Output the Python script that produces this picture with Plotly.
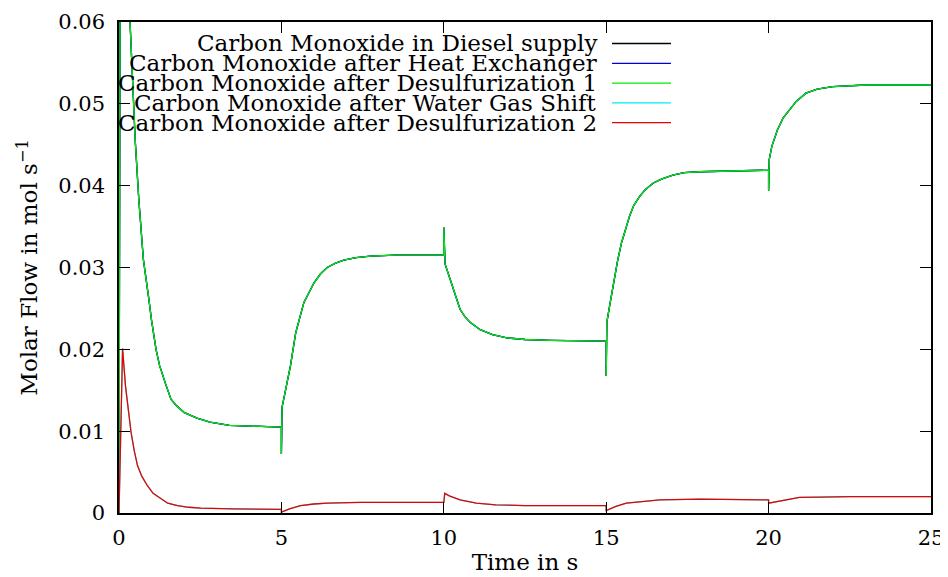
import plotly.graph_objects as go

# CO flow before the water gas shift (diesel supply, heat exchanger, desulfurization 1 coincide)
t_upstream = [0, 0.05, 0.15, 0.25, 0.34, 0.5, 0.61, 0.75, 0.92, 1.0, 1.14, 1.25, 1.45, 1.6,
              1.75, 2.0, 2.4, 2.8, 3.4, 4.05, 5.0, 5.0, 5.02, 5.28, 5.44, 5.69, 5.85, 6.0,
              6.2, 6.41, 6.65, 6.92, 7.3, 7.74, 8.5, 10.0, 10.0, 10.04, 10.2, 10.35, 10.5,
              10.65, 10.81, 11.12, 11.5, 11.94, 12.5, 13.27, 15.0, 15.0, 15.02, 15.1, 15.26,
              15.35, 15.47, 15.6, 15.72, 15.85, 16.03, 16.2, 16.44, 16.7, 17.05, 17.4, 17.87,
              20.0, 20.0, 20.02, 20.1, 20.27, 20.45, 20.64, 20.85, 21.15, 21.5, 21.97, 22.4,
              23.0, 25.0]
co_upstream = [0, 0.100, 0.085, 0.070, 0.060, 0.0455, 0.0383, 0.031, 0.0261, 0.0236, 0.0200,
               0.0180, 0.0156, 0.0139, 0.0132, 0.0123, 0.0116, 0.0111, 0.0107, 0.0106, 0.0105,
               0.0072, 0.0129, 0.0180, 0.0220, 0.0257, 0.0270, 0.0281, 0.0292, 0.0300, 0.0305,
               0.0309, 0.0312, 0.0314, 0.0315, 0.0315, 0.0349, 0.0304, 0.0285, 0.0266, 0.0249,
               0.0240, 0.0233, 0.0224, 0.0218, 0.0214, 0.0212, 0.0211, 0.0210, 0.01675, 0.0233,
               0.0252, 0.0289, 0.0308, 0.0330, 0.0348, 0.0363, 0.0376, 0.0387, 0.0395, 0.0403,
               0.0408, 0.0413, 0.0416, 0.0417, 0.0419, 0.0394, 0.0432, 0.0448, 0.0468, 0.0483,
               0.0493, 0.0503, 0.0513, 0.0518, 0.0521, 0.0522, 0.0523, 0.0523]

# CO flow after the water gas shift (water gas shift, desulfurization 2 coincide)
t_downstream = [0, 0.11, 0.2, 0.28, 0.37, 0.47, 0.57, 0.7, 0.88, 1.05, 1.29, 1.5, 1.8, 2.15,
                2.52, 3.5, 5.0, 5.0, 5.25, 5.59, 6.0, 6.41, 7.43, 10.0, 10.03, 10.17, 10.5,
                11.0, 11.6, 12.5, 15.0, 15.0, 15.3, 15.62, 16.1, 16.65, 17.9, 20.0, 20.0,
                20.4, 20.95, 21.6, 22.5, 25.0]
co_downstream = [0, 0.0201, 0.0155, 0.0125, 0.0099, 0.0076, 0.0058, 0.0045, 0.0033, 0.0024,
                 0.0017, 0.0012, 0.0009, 0.0007, 0.0006, 0.0005, 0.00045, 0.0001, 0.0005,
                 0.0009, 0.0011, 0.0012, 0.0013, 0.0013, 0.0024, 0.0021, 0.0016, 0.0012,
                 0.0010, 0.0009, 0.0009, 0.0003, 0.0008, 0.0012, 0.0014, 0.0016, 0.0017,
                 0.0016, 0.0012, 0.0015, 0.0019, 0.00195, 0.0020, 0.0020]

series_names = ['Carbon Monoxide in Diesel supply',
                'Carbon Monoxide after Heat Exchanger',
                'Carbon Monoxide after Desulfurization 1',
                'Carbon Monoxide after Water Gas Shift',
                'Carbon Monoxide after Desulfurization 2']
series_colors = ['#000000', '#0000dd', '#00ee00', '#00eeee', '#ee0000']
series_data = [(t_upstream, co_upstream), (t_upstream, co_upstream),
               (t_upstream, co_upstream), (t_downstream, co_downstream),
               (t_downstream, co_downstream)]

x_ticks = [0, 5, 10, 15, 20, 25]
y_ticks = [0, 0.01, 0.02, 0.03, 0.04, 0.05, 0.06]
y_ticktext = ['0', '0.01', '0.02', '0.03', '0.04', '0.05', '0.06']

FONT = 'DejaVu Serif'
FSIZE = 23
TSIZE = 21

fig = go.Figure()
for name, color, (tt, vv) in zip(series_names, series_colors, series_data):
    fig.add_trace(go.Scatter(x=tt, y=vv, mode='lines', name=name,
                             line=dict(color=color, width=1.3)))

# page body has an 8px margin, so the figure is 940x569
W, H = 940, 569
ml, mr, mt, mb = 111, 17, 14, 64
pw, ph = W - ml - mr, H - mt - mb

# gnuplot-like key: right aligned text, line sample on its right
for i, (name, color) in enumerate(zip(series_names, series_colors)):
    ypx = 35.5 + 19.8 * i
    yp = 1 - (ypx - mt) / ph
    fig.add_annotation(x=(591 - ml) / pw, y=yp, xref='paper', yref='paper',
                       text=name, showarrow=False, xanchor='right', yanchor='middle',
                       font=dict(family=FONT, size=FSIZE, color='black'))
    fig.add_shape(type='line', xref='paper', yref='paper',
                  x0=(604 - ml) / pw, x1=(663 - ml) / pw, y0=yp, y1=yp,
                  line=dict(color=color, width=1.3))

axis_style = dict(showline=True, linecolor='black', linewidth=1.5, mirror='allticks',
                  ticks='inside', ticklen=11, tickwidth=1, tickcolor='black',
                  showgrid=False, zeroline=False, automargin=False,
                  tickfont=dict(family=FONT, size=TSIZE, color='black'))

fig.update_xaxes(range=[0, 25], tickvals=x_ticks, ticktext=[str(v) for v in x_ticks],
                 ticklabelstandoff=5,
                 title=dict(text='Time in s', standoff=5,
                            font=dict(family=FONT, size=FSIZE, color='black')),
                 **axis_style)
fig.update_yaxes(range=[0, 0.06], tickvals=y_ticks, ticktext=y_ticktext,
                 ticklabelstandoff=8,
                 title=dict(text='Molar Flow in mol s<sup>\u22121</sup>', standoff=14,
                            font=dict(family=FONT, size=FSIZE, color='black')),
                 **axis_style)

fig.update_layout(width=W, height=H, showlegend=False,
                  plot_bgcolor='white', paper_bgcolor='white',
                  margin=dict(l=ml, r=mr, t=mt, b=mb, autoexpand=False),
                  font=dict(family=FONT, size=FSIZE, color='black'))

fig.write_html('out.html')
